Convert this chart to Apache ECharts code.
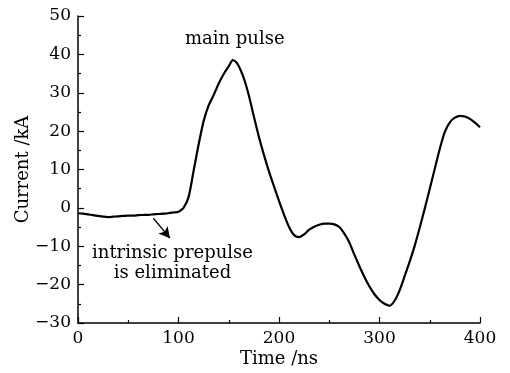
<!DOCTYPE html>
<html>
<head>
<meta charset="utf-8">
<script src="https://cdn.jsdelivr.net/npm/echarts@6/dist/echarts.min.js"></script>
<style>html,body{margin:0;padding:0;background:#fff}#c{width:510px;height:373px}</style>
</head>
<body>
<div id="c"></div>
<script>
var timeNs = [0,5,10,15,20,25,30,35,40,45,50,55,60,65,70,75,80,85,90,95,100,105,110,115,120,125,130,135,140,145,150,154,158,162,166,170,175,180,185,190,195,200,205,210,215,220,225,230,235,240,245,250,255,260,265,270,275,280,285,290,295,300,305,310,315,320,325,330,335,340,345,350,355,360,365,370,375,380,385,390,395,400];
var currentKA = [-1.4,-1.5,-1.7,-1.9,-2.1,-2.3,-2.4,-2.3,-2.2,-2.1,-2.0,-2.0,-1.9,-1.85,-1.8,-1.7,-1.6,-1.5,-1.4,-1.2,-1.0,0.0,2.8,9.6,16.5,22.6,26.7,29.4,32.4,34.9,36.9,38.5,37.8,35.8,33.0,29.3,23.8,18.5,13.8,9.5,5.6,1.8,-1.8,-5.0,-7.1,-7.6,-6.9,-5.7,-4.9,-4.4,-4.1,-4.1,-4.3,-5.0,-6.7,-9.0,-12.2,-15.2,-18.0,-20.5,-22.5,-24.0,-25.0,-25.5,-24.2,-21.5,-17.8,-14.0,-9.9,-5.2,-0.2,5.0,10.2,15.4,19.8,22.3,23.5,24.0,23.8,23.2,22.2,21.0];
var xTicks = {min:0, max:400, interval:100};
var yTicks = {min:-30, max:50, interval:10};
var arrowFrom = [75, -2.7];
var arrowTo = [91.5, -7.9];
var labelMain = 'main pulse';
var labelPre = 'intrinsic prepulse\nis eliminated';

var FONT = 'DejaVu Serif';
var chart = echarts.init(document.getElementById('c'), null, {renderer:'canvas'});
var pts = timeNs.map(function(t,i){return [t, currentKA[i]];});
function minus(v){return String(v).replace('-', '\u2212');}
chart.setOption({
  animation:false,
  backgroundColor:'#fff',
  grid:{left:78, right:30, top:16, bottom:50, containLabel:false},
  xAxis:{
    type:'value', min:xTicks.min, max:xTicks.max, interval:xTicks.interval,
    name:'Time /ns', nameLocation:'middle', nameGap:27, nameMoveOverlap:false,
    nameTextStyle:{fontFamily:FONT, fontSize:18, color:'#000'},
    axisLine:{onZero:false, lineStyle:{color:'#000', width:1.5}},
    axisTick:{inside:true, length:6, lineStyle:{color:'#000', width:1.2}},
    minorTick:{show:true, splitNumber:2, length:3, lineStyle:{color:'#000', width:1.2}},
    axisLabel:{fontFamily:FONT, fontSize:17, color:'#000', margin:7, formatter:minus},
    splitLine:{show:false}
  },
  yAxis:{
    type:'value', min:yTicks.min, max:yTicks.max, interval:yTicks.interval,
    name:'Current /kA', nameLocation:'middle', nameGap:46, nameMoveOverlap:false,
    nameTextStyle:{fontFamily:FONT, fontSize:18, color:'#000'},
    axisLine:{onZero:false, lineStyle:{color:'#000', width:1.5}},
    axisTick:{inside:true, length:6, lineStyle:{color:'#000', width:1.2}},
    minorTick:{show:true, splitNumber:2, length:3, lineStyle:{color:'#000', width:1.2}},
    axisLabel:{fontFamily:FONT, fontSize:17, color:'#000', margin:7, formatter:minus},
    splitLine:{show:false}
  },
  series:[{
    type:'line', data:pts, showSymbol:false, smooth:0.25,
    lineStyle:{color:'#000', width:2.2},
    markLine:{
      silent:true, symbol:['none','arrow'], symbolSize:[9,11],
      lineStyle:{color:'#000', width:1.3, type:'solid'},
      label:{show:false},
      data:[[{coord:arrowFrom},{coord:arrowTo}]]
    }
  }]
});
var pMain = chart.convertToPixel({gridIndex:0}, [156, 41.5]);
var pPre = chart.convertToPixel({gridIndex:0}, [94, -9.2]);
chart.setOption({graphic:[
  {type:'text', x:pMain[0], y:pMain[1], style:{text:labelMain, font:'18px "'+FONT+'"', fill:'#000', textAlign:'center', textVerticalAlign:'bottom'}},
  {type:'text', x:pPre[0], y:pPre[1], style:{text:labelPre, font:'18px "'+FONT+'"', fill:'#000', textAlign:'center', textVerticalAlign:'top', lineHeight:20}}
]});
</script>
</body>
</html>
